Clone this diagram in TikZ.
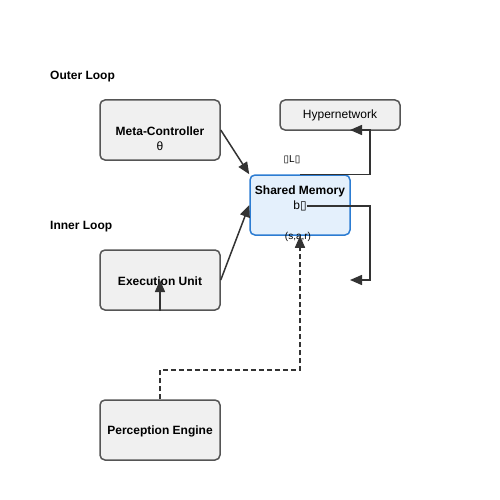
\documentclass[tikz,border=0pt]{standalone}
\usepackage{fontspec}
\setmainfont{Liberation Sans}
\newfontfamily\symfont{DejaVu Sans}
\usepackage{tikz}
\usepackage{xcolor}
\usetikzlibrary{arrows.meta, positioning}
\definecolor{boxgray}{RGB}{240, 240, 240}
\definecolor{boxedge}{RGB}{85, 85, 85}
\definecolor{memblue}{RGB}{228, 240, 252}
\definecolor{memedge}{RGB}{44, 124, 210}
\definecolor{linkgray}{RGB}{51, 51, 51}
\tikzset{
    unitbox/.style={rectangle, rounded corners=5pt, draw=boxedge, fill=boxgray, line width=1.5pt, minimum width=120pt, minimum height=60pt, inner sep=0pt},
    hyperbox/.style={unitbox, minimum height=30pt, font=\fontsize{12}{14}\selectfont},
    membox/.style={unitbox, draw=memedge, fill=memblue, minimum width=100pt},
    boldtext/.style={font=\fontsize{12}{14}\selectfont\bfseries, inner sep=0pt},
    plaintext/.style={font=\fontsize{12}{14}\selectfont, inner sep=0pt},
    smalltext/.style={font=\fontsize{10}{12}\selectfont, inner sep=0pt},
    link/.style={draw=linkgray, line width=1.5pt, -{Triangle[length=12pt, width=10pt]}}
}
\newcommand{\missing}{{\symfont ▯}}

\begin{document}
\begin{tikzpicture}[x=1pt, y=-1pt]
    \useasboundingbox (0,0) rectangle (500,500);
    % loop titles
    \node[boldtext, anchor=west] (outer) at (50,76.5) {Outer Loop};
    \node[boldtext, anchor=west] (inner) at (50,226.5) {Inner Loop};
    % boxes
    \node[unitbox] (mc) at (160,130) {};
    \node[boldtext] (mclabel) at (160,131) {Meta-Controller};
    \node[plaintext] (theta) at (160,146) {θ};
    \node[hyperbox] (hn) at (340,115) {Hypernetwork};
    \node[membox] (sm) at (300,205) {};
    \node[boldtext] (smlabel) at (300,191) {Shared Memory};
    \node[plaintext] (bt) at (300,206) {b\missing};
    \node[unitbox] (eu) at (160,280) {};
    \node[boldtext] (eulabel) at (160,281) {Execution Unit};
    \node[unitbox] (pe) at (160,430) {};
    \node[boldtext] (pelabel) at (160,431) {Perception Engine};
    % edge labels
    \node[smalltext] (grad) at (292,160) {\missing L\missing};
    \node[smalltext] (sar) at (298,237) {(s,a,r)};
    % turning points
    \coordinate (hnturn) at (370,130);
    \coordinate (hnend) at (350,130);
    \coordinate (fbturn) at (370,280);
    \coordinate (fbend) at (350,280);
    \coordinate (peturn) at (160,370);
    % connectors
    \draw[link] (mc.east) -- (sm.north west);
    \draw[link] (eu.east) -- (sm.west);
    \draw[link] (sm.north) -| (hnturn) -- (hnend);
    \draw[link] (bt.east) -| (fbturn) -- (fbend);
    \draw[link] (eu.south) -- (eu.center);
    \draw[link, dash pattern=on 5pt off 3pt] (pe.north) -- (peturn) -| (sm.south);
\end{tikzpicture}
\end{document}
